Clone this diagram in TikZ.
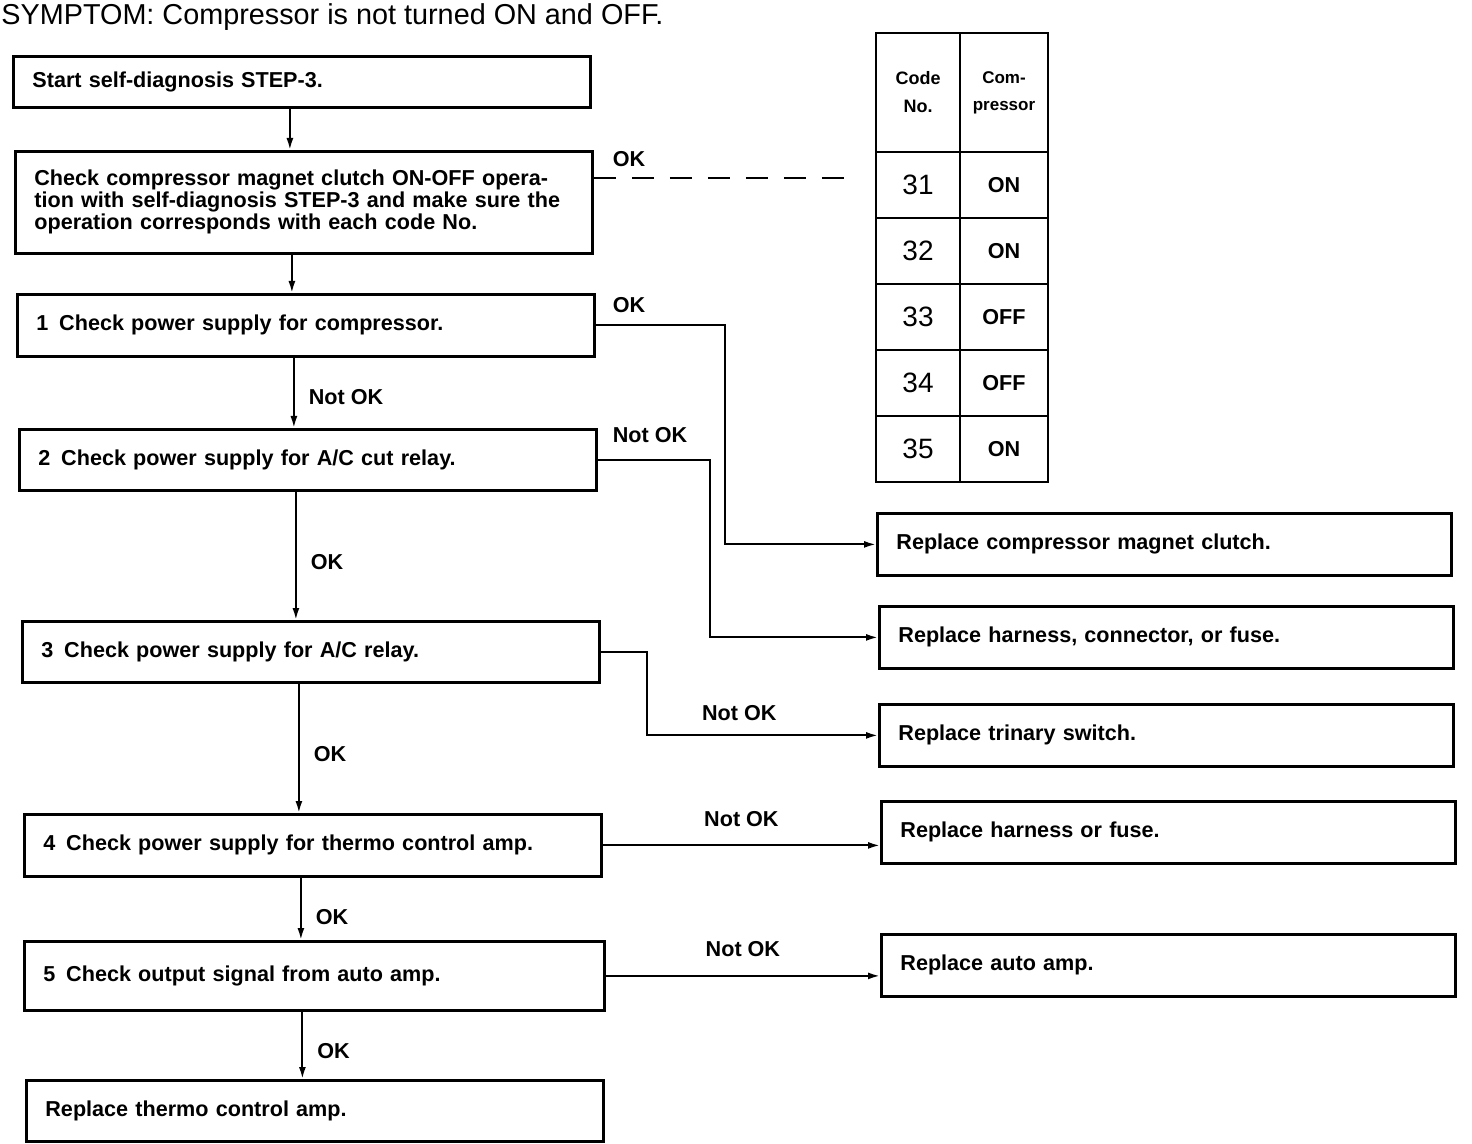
\documentclass[tikz,border=0pt]{standalone}
\usepackage{fontspec}
\setmainfont{Liberation Sans}
\usetikzlibrary{arrows.meta}

\begin{document}
\begin{tikzpicture}[x=0.5pt, y=-0.5pt,
  font=\fontsize{10.8}{11}\selectfont\bfseries,
  chkbox/.style={draw, line width=1.4pt, anchor=north west, align=left,
    inner xsep=9.5pt, inner ysep=0pt, minimum width=288.5pt,
    text width=269.5pt, minimum height=31pt},
  fixbox/.style={chkbox, minimum width=287pt, text width=268pt},
  cell/.style={draw, line width=1.4pt, anchor=north west, align=center,
    inner sep=0pt, outer sep=0pt, minimum height=33pt},
  link/.style={line width=1pt, -{Latex[length=6pt, width=3.5pt]}},
  lbl/.style={inner sep=2pt},
  ]
  \useasboundingbox (0,0) rectangle (1472,1144);
  \node[anchor=base west, inner sep=0pt, font=\fontsize{14.4}{16}\selectfont] (title) at (1,25)
    {SYMPTOM: Compressor is not turned ON and OFF.};
  % left column
  \node[chkbox, minimum height=25.5pt] (start) at (12,55) {Start self-diagnosis STEP-3.};
  \node[chkbox, minimum height=51pt] (clutch) at (14,150)
    {Check compressor magnet clutch ON-OFF opera-\\tion with self-diagnosis STEP-3 and make sure the\\operation corresponds with each code No.};
  \node[chkbox] (psc) at (16,293) {1\enspace Check power supply for compressor.};
  \node[chkbox, minimum height=30.5pt] (pcut) at (18,428) {2\enspace Check power supply for A/C cut relay.};
  \node[chkbox, minimum height=30.5pt] (prly) at (21,620) {3\enspace Check power supply for A/C relay.};
  \node[chkbox] (pamp) at (23,813) {4\enspace Check power supply for thermo control amp.};
  \node[chkbox, minimum width=290pt, text width=271pt, minimum height=34.5pt] (sig) at (23,940)
    {5\enspace Check output signal from auto amp.};
  \node[chkbox, minimum height=30.5pt] (thermo) at (25,1079) {Replace thermo control amp.};
  % right column
  \node[fixbox] (rclutch) at (876,512) {Replace compressor magnet clutch.};
  \node[fixbox] (rharn) at (878,605) {Replace harness, connector, or fuse.};
  \node[fixbox] (rtri) at (878,703) {Replace trinary switch.};
  \node[fixbox] (rfuse) at (880,800) {Replace harness or fuse.};
  \node[fixbox] (rauto) at (880,933) {Replace auto amp.};
  % code table
  \node[cell, minimum width=42pt, minimum height=59.5pt, font=\fontsize{9}{14}\selectfont\bfseries] (hcode) at (876,33) {Code\\No.};
  \node[cell, minimum width=44pt, minimum height=59.5pt, font=\fontsize{8.5}{13.5}\selectfont\bfseries] (hcomp) at (hcode.north east) {Com-\\pressor};
  \foreach \code/\state [count=\i] in {31/ON,32/ON,33/OFF,34/OFF,35/ON} {
    \node[cell, minimum width=42pt, font=\fontsize{14}{14}\selectfont\mdseries] (code\i) at (876,{152+66*(\i-1)}) {\code};
    \node[cell, minimum width=44pt] (comp\i) at (code\i.north east) {\state};
  }
  \coordinate (dashend) at (845,178);
  % connectors
  \draw[link] ([xshift=-6pt]start.south) -- ([xshift=-6pt]start.south |- clutch.north);
  \draw[link] ([xshift=-6pt]clutch.south) -- ([xshift=-6pt]clutch.south |- psc.north);
  \draw[link] ([xshift=-6pt]psc.south) -- node[lbl, right=5pt, yshift=-2pt] {Not OK} ([xshift=-6pt]psc.south |- pcut.north);
  \draw[link] ([xshift=-6pt]pcut.south) -- node[lbl, right=5pt, yshift=-3pt] {OK} ([xshift=-6pt]pcut.south |- prly.north);
  \draw[link] ([xshift=-6pt]prly.south) -- node[lbl, right=5pt, yshift=-3pt] {OK} ([xshift=-6pt]prly.south |- pamp.north);
  \draw[link] ([xshift=-6pt]pamp.south) -- node[lbl, right=5pt, yshift=-4pt] {OK} ([xshift=-6pt]pamp.south |- sig.north);
  \draw[link] ([xshift=-6pt]sig.south) -- node[lbl, right=5pt, yshift=-3pt] {OK} ([xshift=-6pt]sig.south |- thermo.north);
  \draw[line width=1pt, dash pattern=on 11pt off 8pt] (clutch.east |- dashend)
    -- node[lbl, pos=0, anchor=south west, xshift=7pt, yshift=3pt] {OK} (dashend);
  \draw[link] (psc.east) -- node[lbl, pos=0, anchor=south west, xshift=6pt, yshift=4pt] {OK} ++(129,0) |- (rclutch.west);
  \draw[link] (pcut.east) -- node[lbl, pos=0, anchor=south west, xshift=5pt, yshift=6pt] {Not OK} ++(112,0) |- (rharn.west);
  \draw[link] (prly.east) -- ++(46,0) |- node[lbl, pos=0.7, above=5pt] {Not OK} (rtri.west);
  \draw[link] (pamp.east) -- node[lbl, above=7pt] {Not OK} (pamp.east -| rfuse.west);
  \draw[link] (sig.east) -- node[lbl, above=7pt] {Not OK} (sig.east -| rauto.west);
\end{tikzpicture}
\end{document}
